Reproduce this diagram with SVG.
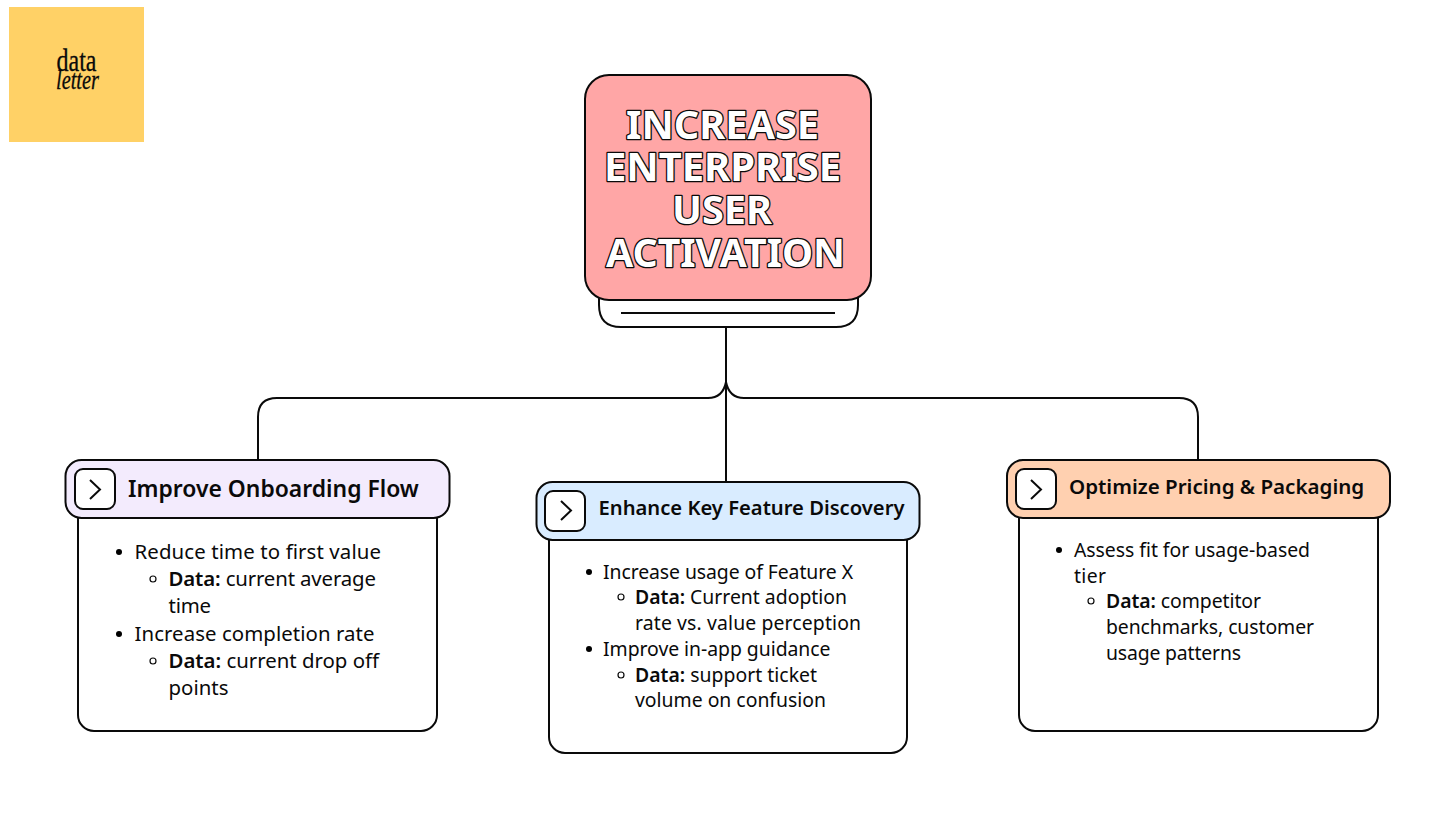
<svg xmlns="http://www.w3.org/2000/svg" width="1456" height="819" viewBox="0 0 1456 819">
<style>
.box{fill:#fff;stroke:#0a0a0a;stroke-width:2}
.ln{fill:none;stroke:#0a0a0a;stroke-width:2}
.head{stroke:#0a0a0a;stroke-width:2}
.t{font-family:"Noto Sans",sans-serif;fill:#0a0a0a}
.h{font-weight:600}
.b{font-size:20.400px}
.c{font-size:19.400px}
.d{font-weight:600}
.title{font-family:"Noto Sans",sans-serif;font-weight:700;font-size:40px;fill:#fff;stroke:#0a0a0a;stroke-width:2.600;text-anchor:middle;paint-order:stroke;stroke-linejoin:round}
.hollow{fill:none;stroke:#0a0a0a;stroke-width:1.2}
.logo{font-family:"Liberation Serif",serif;fill:#0a0a0a;stroke:#0a0a0a;stroke-width:.3;text-anchor:middle}
</style>
<rect width="1456" height="819" fill="#fff"/>
<g id="logo">
<rect x="9" y="7" width="135" height="135" fill="#ffd166"/>
<text class="logo" x="76.500" y="71" font-size="32" textLength="40" lengthAdjust="spacingAndGlyphs">data</text>
<text class="logo" x="77.500" y="89" font-size="27" font-style="italic" textLength="43" lengthAdjust="spacingAndGlyphs">letter</text>
</g>
<g id="connectors">
<path class="ln" d="M726 327V482"/>
<path class="ln" d="M726 382C724 392 718 398 708 398H277Q258 398 258 417V461"/>
<path class="ln" d="M726 382C728 392 734 398 744 398H1179Q1198 398 1198 417V461"/>
</g>
<g id="root">
<path class="box" d="M599 295V305Q599 327 621 327H836Q858 327 858 305V295Z"/>
<path class="ln" d="M621 313H835"/>
<rect x="585" y="75" width="286" height="225" rx="24" fill="#ffa6a6" stroke="#0a0a0a" stroke-width="2"/>
<text class="title" x="722.500" y="139" textLength="193" lengthAdjust="spacingAndGlyphs">INCREASE</text>
<text class="title" x="722.500" y="181" textLength="237" lengthAdjust="spacingAndGlyphs">ENTERPRISE</text>
<text class="title" x="722" y="224" textLength="100" lengthAdjust="spacingAndGlyphs">USER</text>
<text class="title" x="725.500" y="267" textLength="239" lengthAdjust="spacingAndGlyphs">ACTIVATION</text>
</g>
<g id="onboarding">
<rect class="box" x="78" y="500" width="359" height="231" rx="16"/>
<rect class="head" x="65.500" y="460" width="384" height="58" rx="16" fill="#f3ebfd"/>
<rect class="box" x="75" y="469" width="40" height="40" rx="8"/>
<path class="ln" d="M90 480L100 489.500L90 499"/>
<text class="t h" x="128" y="497" font-size="22.900">Improve Onboarding Flow</text>
<circle cx="119" cy="552" r="3"/>
<text class="t b" x="134.500" y="559" textLength="246.500">Reduce time to first value</text>
<circle class="hollow" cx="153" cy="579" r="3"/>
<text class="t b" x="168.500" y="586" textLength="207.500"><tspan class="d">Data:</tspan> current average</text>
<text class="t b" x="168.500" y="613" textLength="42.500">time</text>
<circle cx="119" cy="634" r="3"/>
<text class="t b" x="134.500" y="641" textLength="240">Increase completion rate</text>
<circle class="hollow" cx="153" cy="661" r="3"/>
<text class="t b" x="168.500" y="668" textLength="210.500"><tspan class="d">Data:</tspan> current drop off</text>
<text class="t b" x="168.500" y="695" textLength="60">points</text>
</g>
<g id="discovery">
<rect class="box" x="549" y="522" width="358" height="231" rx="16"/>
<rect class="head" x="536.500" y="482" width="383" height="58" rx="16" fill="#d9ecff"/>
<rect class="box" x="545" y="491" width="40" height="40" rx="8"/>
<path class="ln" d="M561 501L571 510.500L561 520"/>
<text class="t h" x="598.500" y="515" font-size="20.200">Enhance Key Feature Discovery</text>
<circle cx="589" cy="572" r="3"/>
<text class="t c" x="603" y="579" textLength="250">Increase usage of Feature X</text>
<circle class="hollow" cx="621" cy="597" r="3"/>
<text class="t c" x="635" y="604" textLength="212"><tspan class="d">Data:</tspan> Current adoption</text>
<text class="t c" x="635" y="630" textLength="226">rate vs. value perception</text>
<circle cx="589" cy="649" r="3"/>
<text class="t c" x="603" y="656" textLength="227.500">Improve in-app guidance</text>
<circle class="hollow" cx="621" cy="675" r="3"/>
<text class="t c" x="635" y="682" textLength="182"><tspan class="d">Data:</tspan> support ticket</text>
<text class="t c" x="635" y="707" textLength="191">volume on confusion</text>
</g>
<g id="pricing">
<rect class="box" x="1019" y="500" width="359" height="231" rx="16"/>
<rect class="head" x="1007" y="460" width="383" height="58" rx="16" fill="#ffd0b0"/>
<rect class="box" x="1016" y="469" width="40" height="40" rx="8"/>
<path class="ln" d="M1031 480L1041 489.500L1031 499"/>
<text class="t h" x="1069" y="494" font-size="20.550">Optimize Pricing &amp; Packaging</text>
<circle cx="1059" cy="550" r="3"/>
<text class="t c" x="1074" y="557" textLength="236">Assess fit for usage-based</text>
<text class="t c" x="1074" y="583" textLength="32">tier</text>
<circle class="hollow" cx="1091" cy="601" r="3"/>
<text class="t c" x="1106" y="608" textLength="155"><tspan class="d">Data:</tspan> competitor</text>
<text class="t c" x="1106" y="634" textLength="208">benchmarks, customer</text>
<text class="t c" x="1106" y="660" textLength="135">usage patterns</text>
</g>
</svg>
